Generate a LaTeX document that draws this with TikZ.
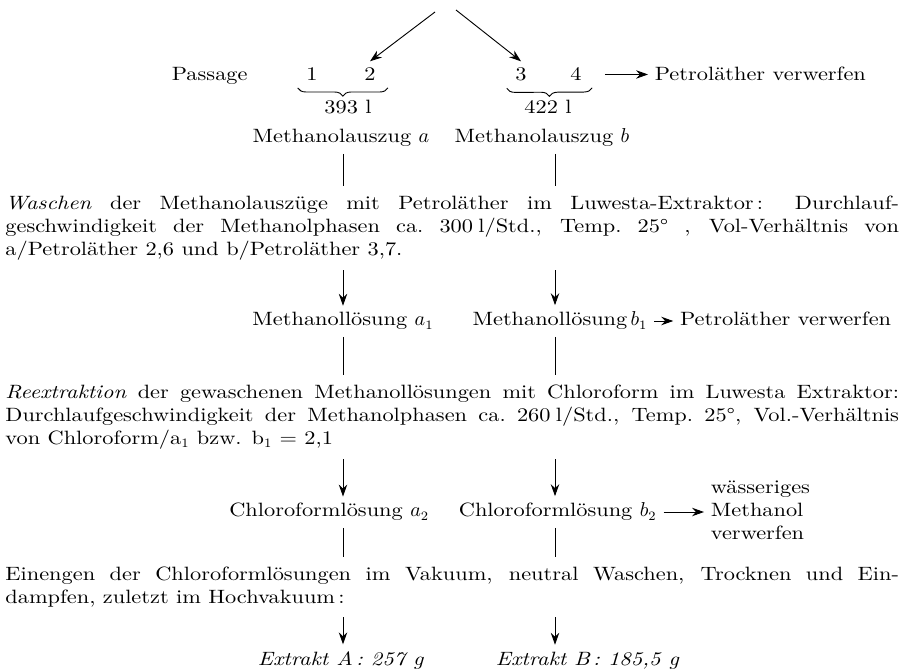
\documentclass[tikz,border=0pt]{standalone}
\usepackage{fontspec}
\setmainfont{Latin Modern Roman}[FakeStretch=1.16]
\usetikzlibrary{arrows.meta,decorations.pathreplacing}
\tolerance=9999
\hbadness=10000

\begin{document}
\fontsize{10.5pt}{12.5pt}\selectfont
\begin{tikzpicture}[x=0.545pt, y=-0.545pt,
    every path/.style={line width=0.5pt},
    arr/.style={-{Stealth[length=6.5pt,width=4.6pt]}},
    lbl/.style={anchor=base},
    para/.style={anchor=north west, text width=487pt, align=justify,
      inner xsep=0pt, inner ysep=5pt},
    ubrace/.style={decorate, decoration={brace, mirror, amplitude=4.5pt}}]
      \useasboundingbox (0,0) rectangle (902,670);

      \coordinate (cola) at (343,0);
      \coordinate (colb) at (555,0);
      \coordinate (srcl) at (435,12);
      \coordinate (srcr) at (456,10);

      \node[lbl, anchor=base west] (passage) at (165,81) {Passage};
      \node[lbl] (n1) at (312,81) {1};
      \node[lbl] (n2) at (370,81) {2};
      \node[lbl] (n3) at (521,81) {3};
      \node[lbl] (n4) at (576,81) {4};
      \node[lbl, anchor=base west] (waste1) at (648,81) {Petroläther verwerfen};

      \draw[arr] (srcl) -- (n2.north);
      \draw[arr] (srcr) -- (n3.north);
      \draw[arr] ([xshift=9pt]n4.east) -- (n4.east -| waste1.west);

      \draw[ubrace] ([xshift=-1pt]n1.south west) -- ([xshift=3pt]n2.south east);
      \draw[ubrace] ([xshift=-1pt]n3.south west) -- ([xshift=2pt]n4.south east);
      \node[lbl] (sum12) at (348,114) {393 l};
      \node[lbl] (sum34) at (548,114) {422 l};

      \node[lbl] (mla) at (341,143) {Methanolauszug $a$};
      \node[lbl] (mlb) at (542,143) {Methanolauszug $b$};

      \node[para] (wash) at (5,186.5) {\textit{Waschen} der Methanolauszüge mit Petroläther im Luwesta-Extraktor\,: Durchlauf-\linebreak
        geschwindigkeit der Methanolphasen ca.~300\;l/Std., Temp.~25° , Vol-Verhältnis von\linebreak
        a/Petroläther 2,6 und b/Petroläther 3,7.};

      \draw (cola |- mla.south) -- (cola |- wash.north);
      \draw (colb |- mlb.south) -- (colb |- wash.north);

      \node[lbl] (mloa) at (343,326) {Methanollösung $a_1$};
      \node[lbl] (mlob) at (560,326) {Methanollösung\,$b_1$};
      \node[lbl, anchor=base east] (waste2) at (898,326) {Petroläther verwerfen};

      \draw[arr] (cola |- wash.south) -- (cola |- mloa.north);
      \draw[arr] (colb |- wash.south) -- (colb |- mlob.north);
      \draw[arr] (mlob.east) -- (mlob.east -| waste2.west);

      \node[para] (reex) at (5,375.5) {\textit{Reextraktion} der gewaschenen Methanollösungen mit Chloroform im Luwesta Extraktor:\linebreak
        Durchlaufgeschwindigkeit der Methanolphasen ca.~260\;l/Std., Temp.~25°, Vol.-Verhältnis\linebreak
        von Chloroform/a$_1$ bzw. b$_1$~=~2,1};

      \draw (cola |- mloa.south) -- (cola |- reex.north);
      \draw (colb |- mlob.south) -- (colb |- reex.north);

      \node[lbl, anchor=base east] (cla) at (436,517) {Chloroformlösung $a_2$};
      \node[lbl, anchor=base west] (clb) at (452,517) {Chloroformlösung $b_2$};
      \node[anchor=west, align=left] (waste3) at (704,510) {wässeriges\\Methanol\\verwerfen};

      \draw[arr] (cola |- reex.south) -- (cola |- cla.north);
      \draw[arr] (colb |- reex.south) -- (colb |- clb.north);
      \draw[arr] (clb.east) -- (clb.east -| waste3.west);

      \node[para] (einen) at (5,557.5) {Einengen der Chloroformlösungen im Vakuum, neutral Waschen, Trocknen und Ein-\linebreak
        dampfen, zuletzt im Hochvakuum\,:};

      \draw (cola |- cla.south) -- (cola |- einen.north);
      \draw (colb |- clb.south) -- (colb |- einen.north);

      \node[lbl, anchor=base east] (exa) at (431,665) {\textit{Extrakt A\,: 257 g}};
      \node[lbl, anchor=base west] (exb) at (489,665) {\textit{Extrakt B\,: 185,5 g}};

      \draw[arr] (cola |- einen.south) -- (cola |- exa.north);
      \draw[arr] (colb |- einen.south) -- (colb |- exb.north);
\end{tikzpicture}
\end{document}
